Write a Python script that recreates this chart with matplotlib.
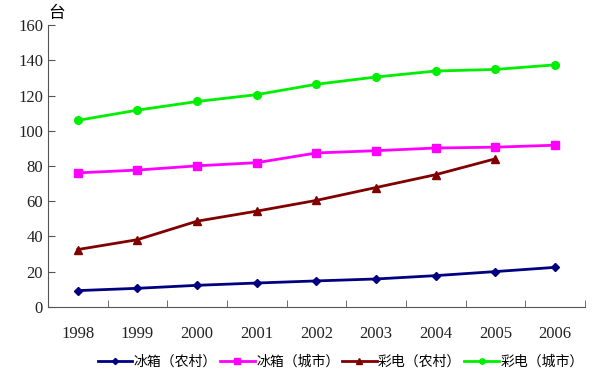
import matplotlib.pyplot as plt
import numpy as np

plt.rcParams['font.family'] = ['Liberation Serif', 'Noto Sans CJK SC']

years = ['1998', '1999', '2000', '2001', '2002', '2003', '2004', '2005', '2006']
fridge_rural = [9.3, 10.6, 12.3, 13.6, 14.8, 15.9, 17.8, 20.1, 22.5]
fridge_urban = [76.1, 77.7, 80.1, 81.9, 87.4, 88.7, 90.2, 90.7, 91.8]
tv_rural = [32.6, 38.2, 48.7, 54.4, 60.5, 67.8, 75.1, 84.1]
tv_urban = [105.9, 111.7, 116.6, 120.5, 126.4, 130.5, 133.9, 134.8, 137.4]

fig = plt.figure(figsize=(5.96, 3.79), dpi=100)
ax = fig.add_axes([0.0805, 0.19, 0.901, 0.744])

x = np.arange(len(years))
ax.plot(x, fridge_rural, color='#000080', marker='D', ms=4.5, lw=2, label='冰箱（农村）')
ax.plot(x, fridge_urban, color='#FF00FF', marker='s', ms=5.5, lw=2, label='冰箱（城市）')
ax.plot(x[:len(tv_rural)], tv_rural, color='#800000', marker='^', ms=6, lw=2, label='彩电（农村）')
ax.plot(x, tv_urban, color='#00EE00', marker='o', ms=5.5, lw=2, label='彩电（城市）')

ax.set_xlim(-0.5, len(years) - 0.5)
ax.set_ylim(0, 160)
ax.set_yticks(range(0, 161, 20))
ax.set_xticks(x)
ax.set_xticklabels(years)
ax.set_xticks(np.arange(-0.5, len(years)), minor=True)
ax.tick_params(axis='x', which='major', length=0, pad=14, labelsize=12, colors='#222222')
ax.tick_params(axis='x', which='minor', length=5, direction='in', color='#555555')
ax.tick_params(axis='y', length=5, direction='in', labelsize=12, color='#555555', labelcolor='#222222')

for s in ['top', 'right']:
    ax.spines[s].set_visible(False)
for s in ['left', 'bottom']:
    ax.spines[s].set_color('#555555')

ax.text(0.0, 1.01, '台', transform=ax.transAxes, fontsize=12, family=['Noto Sans CJK SC'], va='bottom', ha='left')

ax.legend(loc='center', bbox_to_anchor=(0.545, -0.195), ncol=4, frameon=False,
          handlelength=2.5, handletextpad=0.1, columnspacing=0.2, markerscale=0.7,
          prop={'family': ['Noto Sans CJK SC'], 'size': 10})

fig.savefig('out.png', dpi=100)
